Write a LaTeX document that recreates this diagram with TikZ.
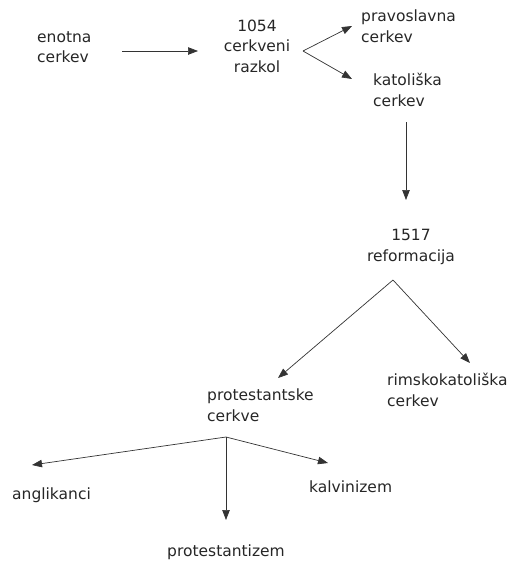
\documentclass[tikz,border=0pt]{standalone}
\usepackage{fontspec}
\setmainfont{DejaVu Sans}
\usetikzlibrary{arrows.meta}
\begin{document}
\begin{tikzpicture}[x=1pt,y=-1pt,
  lbl/.style={inner sep=0pt,font=\fontsize{15.5}{20.5}\selectfont,text=black!85},
  arr/.style={draw=black!80,line width=0.7pt,-{Triangle[length=10pt,width=7.5pt]}}]
\useasboundingbox (0,0) rectangle (513,563);
\node[lbl,anchor=west,align=left] (enotna) at (37,47) {enotna\\cerkev};
\node[lbl,align=center] (razkol) at (257,46) {1054\\cerkveni\\razkol};
\node[lbl,anchor=west,align=left] (prav) at (361,26) {pravoslavna\\cerkev};
\node[lbl,anchor=west,align=left] (kat) at (373,90) {katoliška\\cerkev};
\node[lbl,align=center] (ref) at (411,247) {1517\\reformacija};
\node[lbl,anchor=west,align=left] (rim) at (387,390) {rimskokatoliška\\cerkev};
\node[lbl,anchor=west,align=left] (prot) at (207,405) {protestantske\\cerkve};
\node[lbl,anchor=west] (angl) at (12,495) {anglikanci};
\node[lbl,anchor=west] (kalv) at (309,487) {kalvinizem};
\node[lbl,anchor=west] (protz) at (167,552) {protestantizem};

\draw[arr] ([shift={(85,4)}]enotna.west) -- ([shift={(-59,5)}]razkol.center);
\draw[arr] ([shift={(46,5)}]razkol.center) -- ([shift={(-9,0)}]prav.west);
\draw[arr] ([shift={(46,5)}]razkol.center) -- ([shift={(-21,-11)}]kat.west);
\draw[arr] ([shift={(33,32)}]kat.west) -- ([shift={(-5,-47)}]ref.center);
\draw[arr] ([shift={(-18,33)}]ref.center) -- ([shift={(71,-27)}]prot.west);
\draw[arr] ([shift={(-18,33)}]ref.center) -- ([shift={(83,-27)}]rim.west);
\draw[arr] ([shift={(19,32)}]prot.west) -- ([shift={(20,-30)}]angl.west);
\draw[arr] ([shift={(19,32)}]prot.west) -- ([shift={(59,-32)}]protz.west);
\draw[arr] ([shift={(19,32)}]prot.west) -- ([shift={(19,-24)}]kalv.west);
\end{tikzpicture}
\end{document}
